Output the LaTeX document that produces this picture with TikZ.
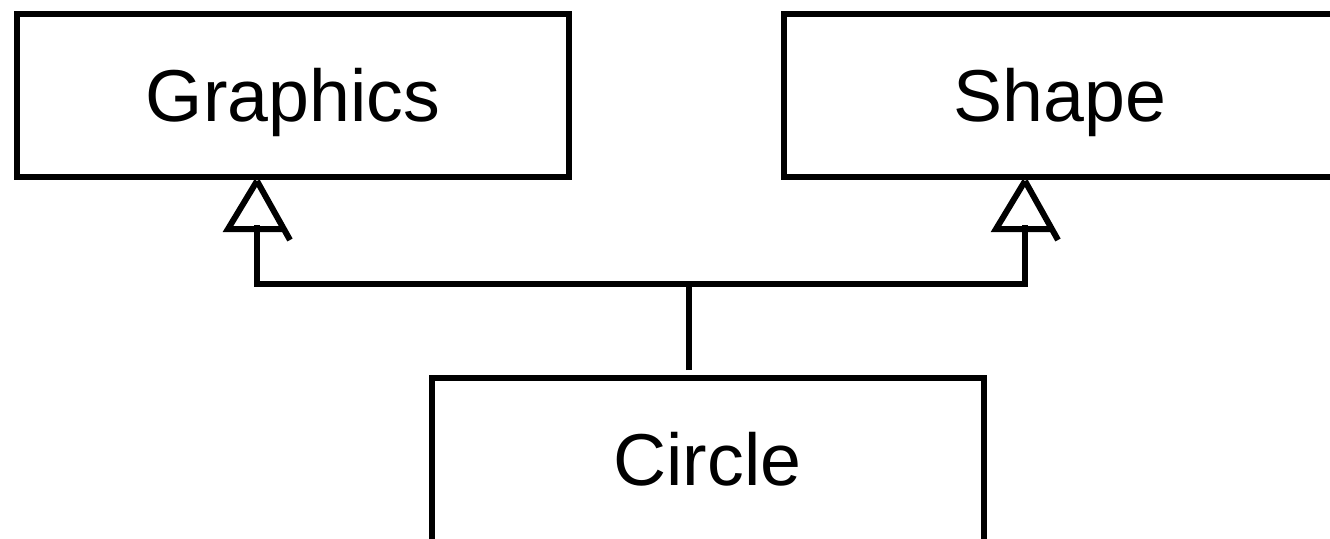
\documentclass[tikz,border=0pt]{standalone}
\usepackage{fontspec}
\setmainfont{Liberation Sans}
\usetikzlibrary{calc}
\begin{document}
\begin{tikzpicture}[x=1pt,y=-1pt,
  box/.style={draw=black,line width=6pt,rectangle,minimum width=552pt,minimum height=163pt,
    inner sep=0pt,font=\fontsize{73.5}{88}\selectfont,text height=52.5pt,text depth=0pt},
  conn/.style={draw=black,line width=6pt}]
\useasboundingbox (0,0) rectangle (1330,538);
\node[box] (Graphics) at (293,95) {Graphics};
\node[box] (Shape) at (1060,95) {Shape};
\node[box,minimum height=175pt,text depth=12pt] (Circle) at (707.5,465.5) {Circle};
% arrow tips
\coordinate (g) at ($(Graphics.south)+(-36,1.5)$);
\coordinate (s) at ($(Shape.south)+(-35,1.5)$);
\coordinate (gs) at ($(g)+(0,44)$);
\coordinate (ss) at ($(s)+(0,44)$);
\coordinate (cn) at ($(Circle.north)+(-18.5,-5)$);
\coordinate (cb) at ($(Circle.north)+(-18.5,-91)$);
% open triangles
\draw[conn] (g) -- ++(-29,48) -- ++(54,0);
\draw[conn] (g) -- ++(33,59);
\draw[conn] (s) -- ++(-29,48) -- ++(54,0);
\draw[conn] (s) -- ++(33,59);
% connectors
\draw[conn] (gs) -- (gs |- cb) -- (ss |- cb) -- (ss);
\draw[conn] (cn) -- (cb);
\end{tikzpicture}
\end{document}
